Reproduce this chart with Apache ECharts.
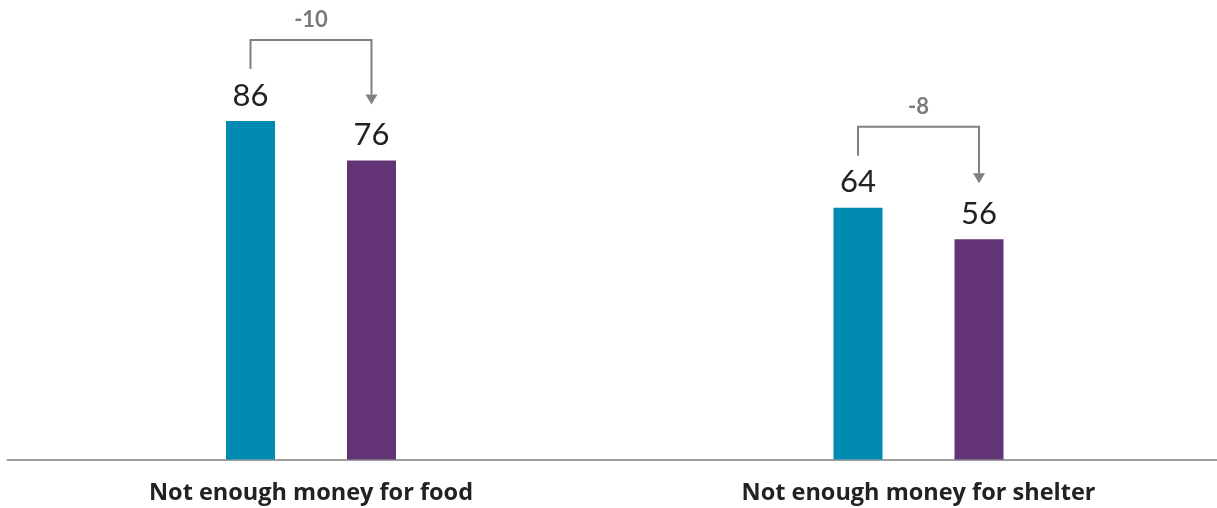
<!DOCTYPE html>
<html>
<head>
<meta charset="utf-8">
<script src="https://cdn.jsdelivr.net/npm/echarts@6/dist/echarts.min.js"></script>
<style>
  html, body { margin: 0; padding: 0; background: #ffffff; overflow: hidden; }
  #chart { width: 1226px; height: 508px; }
</style>
</head>
<body>
<div id="chart"></div>
<script>
// Survey categories and the two period values shown for each
const categories = ['Not enough money for food', 'Not enough money for shelter'];
const earlierValues = [86, 64];
const laterValues = [76, 56];

const FONT = 'Lato, "Open Sans", sans-serif';
const LABEL_FONT = '"Open Sans", Lato, sans-serif';
const BLUE = '#008AB0';
const PURPLE = '#623375';
const BAR_WIDTH = 49;
const BAR_GAP_PX = 72;

// Change brackets: [category index, earlier value, later value]
const changeData = categories.map((c, i) => [i, earlierValues[i], laterValues[i]]);

const chart = echarts.init(document.getElementById('chart'), null, { renderer: 'canvas' });

function renderBracket(params, api) {
  const idx = api.value(0);
  const from = api.value(1);
  const to = api.value(2);
  const half = (BAR_WIDTH + BAR_GAP_PX) / 2;
  const pFrom = api.coord([idx, from]);
  const pTo = api.coord([idx, to]);
  const xL = pFrom[0] - half;
  const xR = pFrom[0] + half;
  const topY = Math.min(pFrom[1], pTo[1]) - 81;
  const startY = pFrom[1] - 52;
  const tipY = pTo[1] - 56;
  const headH = 10, headW = 6;
  const stroke = { stroke: '#808080', lineWidth: 2, fill: null };
  const diff = to - from;
  return {
    type: 'group',
    children: [
      {
        type: 'polyline',
        shape: { points: [[xL, startY], [xL, topY], [xR, topY], [xR, tipY - headH]] },
        style: stroke
      },
      {
        type: 'polygon',
        shape: { points: [[xR - headW, tipY - headH], [xR + headW, tipY - headH], [xR, tipY]] },
        style: { fill: '#808080' }
      },
      {
        type: 'text',
        style: {
          text: (diff > 0 ? '+' : '') + diff,
          x: pFrom[0],
          y: topY - 20,
          align: 'center',
          verticalAlign: 'middle',
          font: 'bold 22px ' + FONT,
          fill: '#7a7a7a'
        }
      }
    ]
  };
}

chart.setOption({
  animation: false,
  backgroundColor: '#ffffff',
  grid: { left: 7.25, width: 1215, top: 66, bottom: 48.5, containLabel: false },
  xAxis: {
    type: 'category',
    data: categories,
    axisLine: { show: true, lineStyle: { color: '#808080', width: 1.5 } },
    axisTick: { show: false },
    axisLabel: {
      margin: 22,
      color: '#222222',
      fontFamily: LABEL_FONT,
      fontWeight: 'bold',
      fontSize: 23.5
    }
  },
  yAxis: {
    type: 'value',
    min: 0,
    max: 100,
    show: false,
    splitLine: { show: false }
  },
  series: [
    {
      type: 'bar',
      data: earlierValues,
      barWidth: BAR_WIDTH,
      barGap: (BAR_GAP_PX / BAR_WIDTH * 100) + '%',
      itemStyle: { color: BLUE },
      label: {
        show: true,
        position: 'top',
        distance: 10,
        color: '#222222',
        fontFamily: FONT,
        fontSize: 31
      }
    },
    {
      type: 'bar',
      data: laterValues,
      barWidth: BAR_WIDTH,
      itemStyle: { color: PURPLE },
      label: {
        show: true,
        position: 'top',
        distance: 10,
        color: '#222222',
        fontFamily: FONT,
        fontSize: 31
      }
    },
    {
      type: 'custom',
      data: changeData,
      renderItem: renderBracket,
      encode: { x: 0, y: [1, 2] },
      silent: true,
      z: 5
    }
  ]
});
</script>
</body>
</html>
